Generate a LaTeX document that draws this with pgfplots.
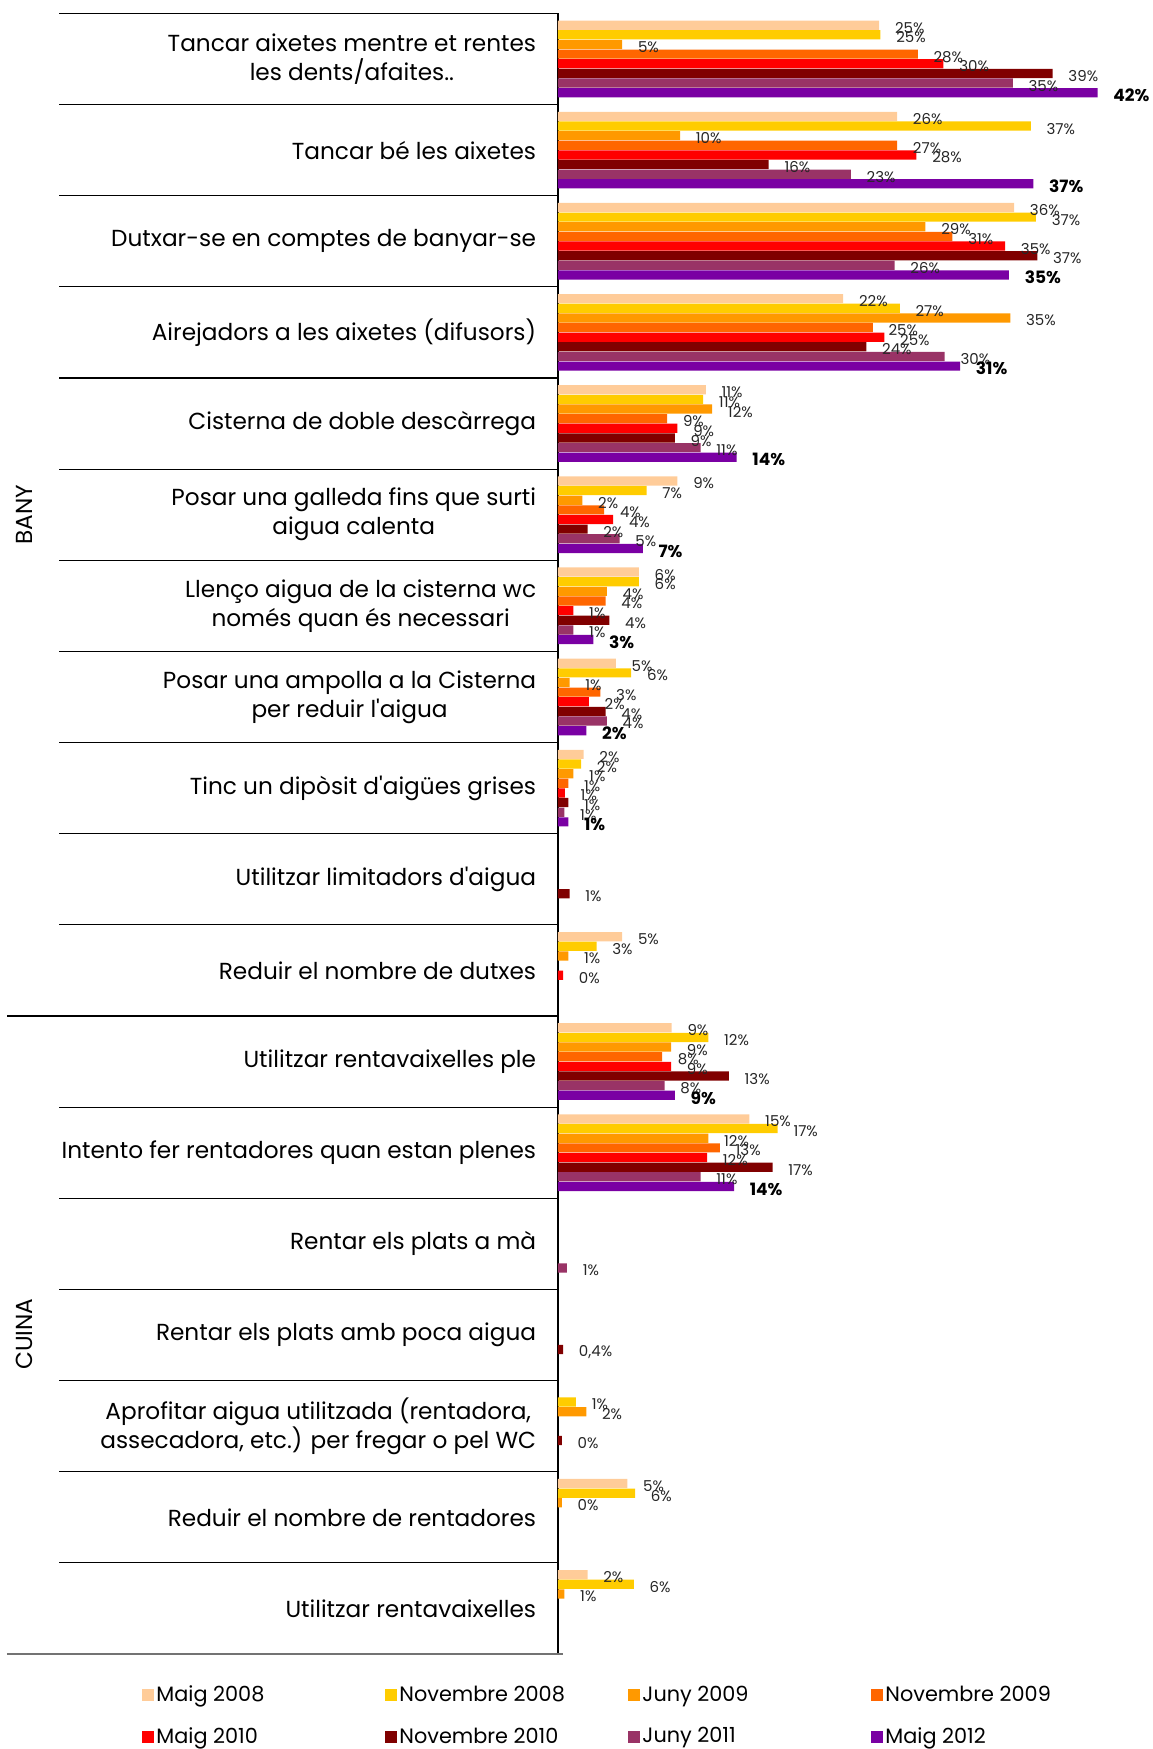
\documentclass[border=0pt]{standalone}
\usepackage{fontspec}
\setmainfont{Poppins}
\usepackage{pgfplots}
\pgfplotsset{compat=1.18}

\definecolor{cA}{HTML}{FFCC99}
\definecolor{cB}{HTML}{FFCC00}
\definecolor{cC}{HTML}{FF9900}
\definecolor{cD}{HTML}{FF6600}
\definecolor{cE}{HTML}{FF0000}
\definecolor{cF}{HTML}{800000}
\definecolor{cG}{HTML}{993366}
\definecolor{cH}{HTML}{7A00A3}

\begin{document}
\begin{tikzpicture}
\begin{axis}[
  at={(0,0)}, anchor=south west,
  scale only axis, width=278.75pt, height=820.3pt,
  xmin=0, xmax=43.39, ymin=-0.5, ymax=17.5,
  xbar, bar width=4.6pt,
  axis x line=none, axis y line*=left,
  y axis line style={line width=0.8pt,-},
  xtick=\empty,
  ytick={0,...,17},
  yticklabels={
    {Utilitzar rentavaixelles},
    {Reduir el nombre de rentadores},
    {Aprofitar aigua utilitzada (rentadora,\\assecadora, etc.) per fregar o pel WC},
    {Rentar els plats amb poca aigua},
    {Rentar els plats a mà},
    {Intento fer rentadores quan estan plenes},
    {Utilitzar rentavaixelles ple},
    {Reduir el nombre de dutxes},
    {Utilitzar limitadors d\textquotesingle aigua},
    {Tinc un dipòsit d\textquotesingle aigües grises},
    {Posar una ampolla a la Cisterna\\per reduir l\textquotesingle aigua},
    {Llenço aigua de la cisterna wc\\només quan és necessari},
    {Posar una galleda fins que surti\\aigua calenta},
    {Cisterna de doble descàrrega},
    {Airejadors a les aixetes (difusors)},
    {Dutxar-se en comptes de banyar-se},
    {Tancar bé les aixetes},
    {Tancar aixetes mentre et rentes\\les dents/afaites..}},
  major tick length=0pt,
  yticklabel style={align=center, font=\fontsize{11.6}{14.5}\selectfont, inner sep=0pt, xshift=-10.75pt},
  point meta=explicit symbolic,
  nodes near coords,
  every node near coord/.append style={anchor=west, inner sep=0pt, xshift=7.7pt, yshift=-1.3pt,
    font=\fontsize{7.5}{8}\selectfont, text=black!85},
  legend columns=4,
  legend style={at={(-0.746,-0.0179)}, anchor=north west, draw=none, fill=none, inner sep=0pt,
    font=\fontsize{10.4}{12}\selectfont, row sep=9.4pt, column sep=0pt,
    nodes={inner sep=1pt}},
  legend image code/.code={\fill[#1,draw=none] (0pt,-3pt) rectangle (6pt,3pt);},
  clip=false,
]
% Maig 2008
\addplot[fill=cA, draw=none, bar shift=16.87pt] coordinates {
 (25.0,17)[25\%] (26.4,16)[26\%] (35.5,15)[36\%] (22.2,14)[22\%] (11.5,13)[11\%]
 (9.3,12)[9\%] (6.3,11)[6\%] (4.5,10)[5\%] (2.0,9)[2\%] (5.0,7)[5\%]
 (8.85,6)[9\%] (14.9,5)[15\%] (5.4,1)[5\%] (2.3,0)[2\%]};
% Novembre 2008
\addplot[fill=cB, draw=none, bar shift=12.05pt] coordinates {
 (25.1,17)[25\%] (36.8,16)[37\%] (37.2,15)[37\%] (26.6,14)[27\%] (11.3,13)[11\%]
 (6.9,12)[7\%] (6.3,11)[6\%] (5.7,10)[6\%] (1.8,9)[2\%] (3.0,7)[3\%]
 (11.7,6)[12\%] (17.1,5)[17\%] (1.4,2)[1\%] (6.0,1)[6\%] (5.9,0)[6\%]};
% Juny 2009
\addplot[fill=cC, draw=none, bar shift=7.23pt] coordinates {
 (5.0,17)[5\%] (9.5,16)[10\%] (28.6,15)[29\%] (35.2,14)[35\%] (12.0,13)[12\%]
 (1.9,12)[2\%] (3.8,11)[4\%] (0.9,10)[1\%] (1.2,9)[1\%] (0.8,7)[1\%]
 (8.8,6)[9\%] (11.7,5)[12\%] (2.2,2)[2\%] (0.3,1)[0\%] (0.5,0)[1\%]};
% Novembre 2009
\addplot[fill=cD, draw=none, bar shift=2.41pt] coordinates {
 (28.0,17)[28\%] (26.4,16)[27\%] (30.7,15)[31\%] (24.5,14)[25\%] (8.5,13)[9\%]
 (3.6,12)[4\%] (3.7,11)[4\%] (3.3,10)[3\%] (0.8,9)[1\%]
 (8.1,6)[8\%] (12.6,5)[13\%]};
% Maig 2010
\addplot[fill=cE, draw=none, bar shift=-2.41pt] coordinates {
 (30.0,17)[30\%] (27.9,16)[28\%] (34.8,15)[35\%] (25.4,14)[25\%] (9.3,13)[9\%]
 (4.3,12)[4\%] (1.2,11)[1\%] (2.4,10)[2\%] (0.54,9)[1\%] (0.4,7)[0\%]
 (8.8,6)[9\%] (11.6,5)[12\%]};
% Novembre 2010
\addplot[fill=cF, draw=none, bar shift=-7.23pt] coordinates {
 (38.5,17)[39\%] (16.4,16)[16\%] (37.3,15)[37\%] (24.0,14)[24\%] (9.1,13)[9\%]
 (2.3,12)[2\%] (4.0,11)[4\%] (3.7,10)[4\%] (0.8,9)[1\%] (0.9,8)[1\%]
 (13.3,6)[13\%] (16.7,5)[17\%] (0.4,3)[0,4\%] (0.3,2)[0\%]};
% Juny 2011
\addplot[fill=cG, draw=none, bar shift=-12.05pt] coordinates {
 (35.4,17)[35\%] (22.8,16)[23\%] (26.2,15)[26\%] (30.1,14)[30\%] (11.1,13)[11\%]
 (4.8,12)[5\%] (1.2,11)[1\%] (3.8,10)[4\%] (0.5,9)[1\%]
 (8.3,6)[8\%] (11.1,5)[11\%] (0.7,4)[1\%]};
% Maig 2012
\addplot[fill=cH, draw=none, bar shift=-16.87pt,
  every node near coord/.append style={font=\bfseries\fontsize{8.5}{9}\selectfont, text=black}] coordinates {
 (42.0,17)[42\%] (37.0,16)[37\%] (35.1,15)[35\%] (31.3,14)[31\%] (13.9,13)[14\%]
 (6.6,12)[7\%] (2.75,11)[3\%] (2.2,10)[2\%] (0.8,9)[1\%]
 (9.1,6)[9\%] (13.7,5)[14\%]};
\addlegendentry{\makebox[113.5pt][l]{Maig 2008}}
\addlegendentry{\makebox[113.5pt][l]{Novembre 2008}}
\addlegendentry{\makebox[113.5pt][l]{Juny 2009}}
\addlegendentry{\makebox[113.5pt][l]{Novembre 2009}}
\addlegendentry{\makebox[113.5pt][l]{Maig 2010}}
\addlegendentry{\makebox[113.5pt][l]{Novembre 2010}}
\addlegendentry{\makebox[113.5pt][l]{Juny 2011}}
\addlegendentry{\makebox[113.5pt][l]{Maig 2012}}
\end{axis}
% category separators
\foreach \i in {1,...,17}
  \draw[line width=0.6pt] (0,\i*45.572pt) -- ++(-249.5pt,0);
\draw[line width=0.6pt] (0,18*45.572pt) -- ++(-249.5pt,0);
\draw[line width=0.6pt] (0,7*45.572pt) -- ++(-275.5pt,0);
\draw[line width=1pt, black!55] (-275.5pt,0) -- (2.5pt,0);
\node[rotate=90, font=\fontsize{11.6}{13}\selectfont] at (-266.75pt, 569.5pt) {BANY};
\node[rotate=90, font=\fontsize{11.6}{13}\selectfont] at (-266.75pt, 160pt) {CUINA};
\pgfresetboundingbox
\path (-279pt,-47.5pt) rectangle (297pt,827pt);
\end{tikzpicture}
\end{document}
